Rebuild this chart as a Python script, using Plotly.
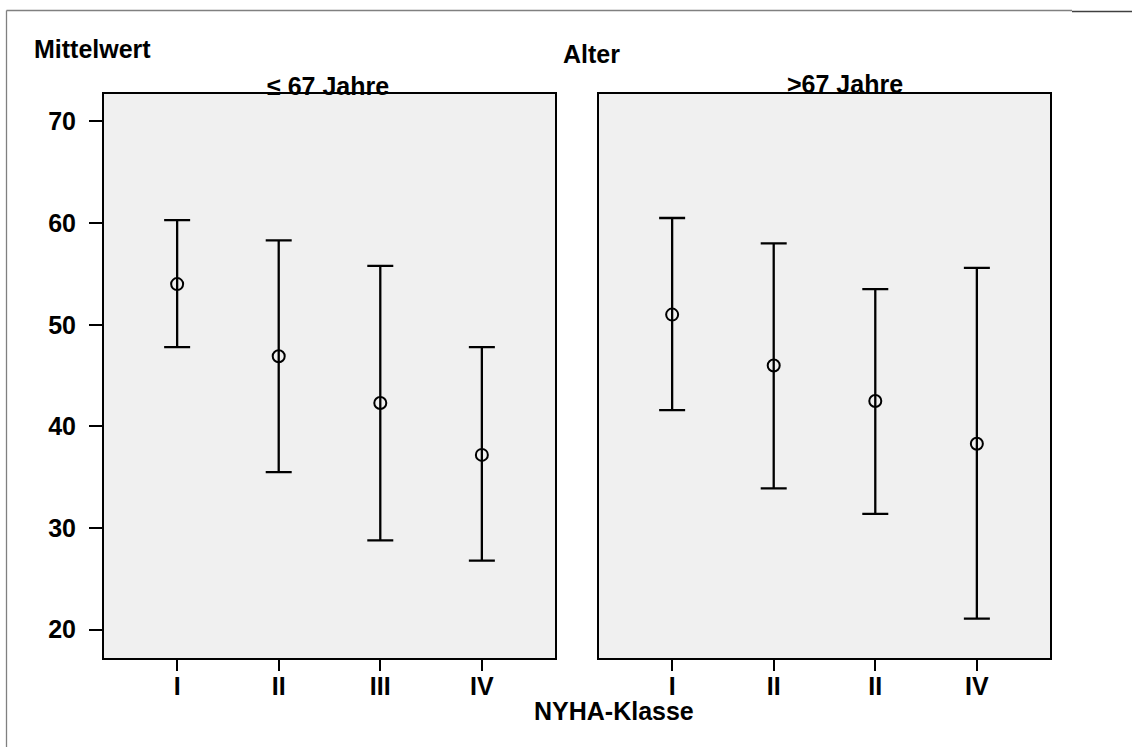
import plotly.graph_objects as go

W, H = 1132, 747

classes_left = ["I", "II", "III", "IV"]
classes_right = ["I", "II", "II", "IV"]

mean_left = [54.0, 46.9, 42.3, 37.2]
upper_left = [60.3, 58.3, 55.8, 47.8]
lower_left = [47.8, 35.5, 28.8, 26.8]

mean_right = [51.0, 46.0, 42.5, 38.3]
upper_right = [60.5, 58.0, 53.5, 55.6]
lower_right = [41.6, 33.9, 31.4, 21.1]

y_ticks = [20, 30, 40, 50, 60, 70]

FONT = "Liberation Sans, Arial, Helvetica, sans-serif"
FS = 25


def px_x(x):
    return x / W


def px_y(y):
    return 1 - y / H


fig = go.Figure()


def add_panel(means, uppers, lowers, xa, ya):
    pos = list(range(1, len(means) + 1))
    fig.add_trace(go.Scatter(
        x=pos, y=means, xaxis=xa, yaxis=ya, mode="markers",
        marker=dict(symbol="circle-open", size=12, color="black",
                    line=dict(width=2, color="black")),
        error_y=dict(type="data", symmetric=False,
                     array=[u - m for u, m in zip(uppers, means)],
                     arrayminus=[m - l for m, l in zip(means, lowers)],
                     color="black", thickness=2.3, width=13),
        showlegend=False, hoverinfo="y",
    ))


add_panel(mean_left, upper_left, lower_left, "x", "y")
add_panel(mean_right, upper_right, lower_right, "x2", "y2")

yrange = [17.22, 72.70]
xrange = [0.28, 4.72]
ydom = [px_y(658), px_y(94)]

axis_common = dict(showgrid=False, zeroline=False, showline=True, mirror=True,
                   linecolor="black", linewidth=2, ticks="outside",
                   tickcolor="black", tickwidth=2.3,
                   tickfont=dict(family=FONT, size=FS, color="black", weight="bold"))

fig.update_layout(
    width=W, height=H,
    margin=dict(l=0, r=0, t=0, b=0, autoexpand=False),
    paper_bgcolor="white", plot_bgcolor="#f0f0f0",
    xaxis=dict(domain=[px_x(104), px_x(555)], range=xrange, tickmode="array",
               tickvals=[1, 2, 3, 4], ticktext=classes_left, ticklen=11,
               ticklabelstandoff=-6, anchor="y", **axis_common),
    yaxis=dict(domain=ydom, range=yrange, tickmode="array", tickvals=y_ticks,
               ticktext=[str(v) for v in y_ticks], ticklen=13,
               ticklabelstandoff=8, anchor="x", **axis_common),
    xaxis2=dict(domain=[px_x(599), px_x(1050)], range=xrange, tickmode="array",
                tickvals=[1, 2, 3, 4], ticktext=classes_right, ticklen=11,
                ticklabelstandoff=-6, anchor="y2", **axis_common),
    yaxis2=dict(domain=ydom, range=yrange, anchor="x2", showticklabels=False,
                **{k: v for k, v in axis_common.items() if k != "ticks"}, ticks=""),
)

tf = dict(family=FONT, size=FS, color="black", weight="bold")
annos = [
    ("Mittelwert", 32, 49, "left"),
    ("Alter", 591, 54, "center"),
    ("≤ 67 Jahre", 328, 86, "center"),
    (">67 Jahre", 845, 84, "center"),
    ("NYHA-Klasse", 614, 711, "center"),
]
for text, x, y, anchor in annos:
    fig.add_annotation(text=text, x=px_x(x), y=px_y(y), xref="paper", yref="paper",
                       xanchor=anchor, yanchor="middle", showarrow=False, font=tf)

# outer frame lines
fig.add_shape(type="line", xref="paper", yref="paper",
              x0=px_x(6.5), x1=px_x(1072), y0=px_y(10.5), y1=px_y(10.5),
              line=dict(color="#808080", width=1.3))
fig.add_shape(type="line", xref="paper", yref="paper",
              x0=px_x(1072), x1=px_x(1132), y0=px_y(11.5), y1=px_y(11.5),
              line=dict(color="#404040", width=1.6))
fig.add_shape(type="line", xref="paper", yref="paper",
              x0=px_x(6.5), x1=px_x(6.5), y0=px_y(10.5), y1=px_y(747),
              line=dict(color="#808080", width=1.3))

fig.write_html("out.html")
